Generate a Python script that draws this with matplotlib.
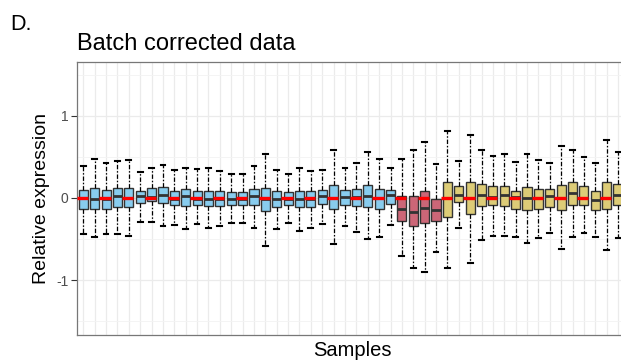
import matplotlib
matplotlib.use("Agg")
import matplotlib.pyplot as plt
from matplotlib.ticker import MultipleLocator

plt.rcParams["font.family"] = ["Liberation Sans", "DejaVu Sans"]
plt.rcParams["axes.unicode_minus"] = False

# per-sample box statistics (relative expression)
batch = ["A"] * 28 + ["B"] * 4 + ["C"] * 16
whis_hi = [0.39, 0.47, 0.42, 0.45, 0.46, 0.32, 0.36, 0.40, 0.34, 0.37, 0.35, 0.36,
           0.33, 0.29, 0.29, 0.39, 0.54, 0.34, 0.29, 0.37, 0.33, 0.34, 0.58, 0.36,
           0.42, 0.56, 0.47, 0.37,
           0.47, 0.58, 0.68, 0.41,
           0.81, 0.45, 0.76, 0.58, 0.51, 0.53, 0.44, 0.54, 0.46, 0.42, 0.63, 0.58,
           0.50, 0.42, 0.70, 0.56]
q3 = [0.10, 0.12, 0.10, 0.12, 0.12, 0.09, 0.12, 0.13, 0.09, 0.11, 0.09, 0.09,
      0.09, 0.07, 0.07, 0.11, 0.12, 0.08, 0.07, 0.09, 0.08, 0.10, 0.16, 0.10,
      0.11, 0.16, 0.11, 0.10,
      0.02, 0.02, 0.09, -0.01,
      0.19, 0.15, 0.20, 0.17, 0.15, 0.15, 0.09, 0.13, 0.11, 0.11, 0.16, 0.19,
      0.15, 0.08, 0.20, 0.17]
med = [0.00, -0.01, -0.01, 0.02, 0.00, 0.02, 0.01, 0.03, -0.01, 0.02, -0.01, -0.01,
       -0.01, -0.01, -0.01, 0.02, -0.01, -0.01, -0.01, -0.01, -0.01, 0.02, 0.00, 0.01,
       0.01, 0.02, 0.00, 0.03,
       -0.14, -0.17, -0.12, -0.15,
       0.00, 0.04, 0.00, 0.04, 0.01, 0.03, 0.01, 0.00, 0.00, 0.02, 0.00, 0.06,
       0.00, -0.03, 0.00, 0.04]
q1 = [-0.13, -0.13, -0.13, -0.11, -0.11, -0.06, -0.04, -0.06, -0.09, -0.10, -0.09, -0.10,
      -0.10, -0.09, -0.09, -0.09, -0.16, -0.11, -0.09, -0.11, -0.11, -0.07, -0.13, -0.09,
      -0.10, -0.11, -0.13, -0.07,
      -0.28, -0.34, -0.30, -0.28,
      -0.23, -0.05, -0.20, -0.10, -0.09, -0.10, -0.14, -0.15, -0.14, -0.11, -0.15, -0.08,
      -0.09, -0.15, -0.13, -0.09]
whis_lo = [-0.44, -0.47, -0.44, -0.44, -0.46, -0.29, -0.29, -0.34, -0.33, -0.38, -0.32, -0.37,
           -0.34, -0.31, -0.30, -0.36, -0.58, -0.38, -0.31, -0.40, -0.36, -0.32, -0.56, -0.34,
           -0.41, -0.50, -0.48, -0.33,
           -0.71, -0.85, -0.90, -0.66,
           -0.85, -0.36, -0.79, -0.51, -0.46, -0.46, -0.48, -0.55, -0.49, -0.42, -0.62, -0.48,
           -0.43, -0.48, -0.63, -0.49]
batch_colors = {"A": "#88CCEE", "B": "#CC6677", "C": "#DDCC77"}

fig = plt.figure(figsize=(6.21, 3.61), dpi=100)
ax = fig.add_axes([76.5 / 621, 1 - 335 / 361, 1 - 76.5 / 621, (335 - 62) / 361])

stats = []
for i in range(len(med)):
    stats.append({"whislo": whis_lo[i], "q1": q1[i], "med": med[i],
                  "q3": q3[i], "whishi": whis_hi[i], "fliers": []})

pos = list(range(len(med)))
bp = ax.bxp(stats, positions=pos, widths=0.8, patch_artist=True,
            capwidths=0.42, manage_ticks=False,
            boxprops=dict(edgecolor="#333333", linewidth=1.0),
            medianprops=dict(color="#333333", linewidth=2.0),
            whiskerprops=dict(color="black", linewidth=0.9,
                              linestyle=(0, (3.5, 1.5, 1.2, 1.5))),
            capprops=dict(color="black", linewidth=1.5))
for patch, b in zip(bp["boxes"], batch):
    patch.set_facecolor(batch_colors[b])
    patch.set_zorder(2)

x_lo, x_hi = -0.6, 47.26
ax.set_xlim(x_lo, x_hi)
ax.set_ylim(-1.665, 1.652)

# red dashed reference line at 0: dash one sample slot long, gap one slot
dash_starts = [x_lo + k for k in range(0, len(pos) + 1, 2)]
dash_ends = [min(s + 1, x_hi) for s in dash_starts]
ax.hlines([0] * len(dash_starts), dash_starts, dash_ends, color="red",
          linewidth=2.4, zorder=4)

ax.set_xticks(pos)
ax.tick_params(axis="x", length=0, labelbottom=False)
ax.yaxis.set_major_locator(MultipleLocator(1))
ax.yaxis.set_minor_locator(MultipleLocator(0.5))
ax.tick_params(axis="y", which="major", length=4, width=0.8, color="#333333",
               labelsize=10, labelcolor="#4D4D4D", pad=2)
ax.tick_params(axis="y", which="minor", length=0)
ax.grid(True, which="major", color="#EBEBEB", linewidth=0.9)
ax.grid(True, which="minor", axis="y", color="#F3F3F3", linewidth=0.6)
ax.set_axisbelow(True)

for side in ["left", "top", "bottom"]:
    ax.spines[side].set_color("#777777")
    ax.spines[side].set_linewidth(0.9)
ax.spines["right"].set_visible(False)

ax.set_ylabel("Relative expression", fontsize=14, labelpad=4)
fig.text(352 / 621, 1 - 350 / 361, "Samples", fontsize=14.5, ha="center", va="center")
fig.text(77 / 621, 1 - 50 / 361, "Batch corrected data", fontsize=17, ha="left",
         va="baseline")
fig.text(10 / 621, 1 - 30 / 361, "D.", fontsize=15.5, ha="left", va="baseline")

fig.savefig("out.png", dpi=100)
